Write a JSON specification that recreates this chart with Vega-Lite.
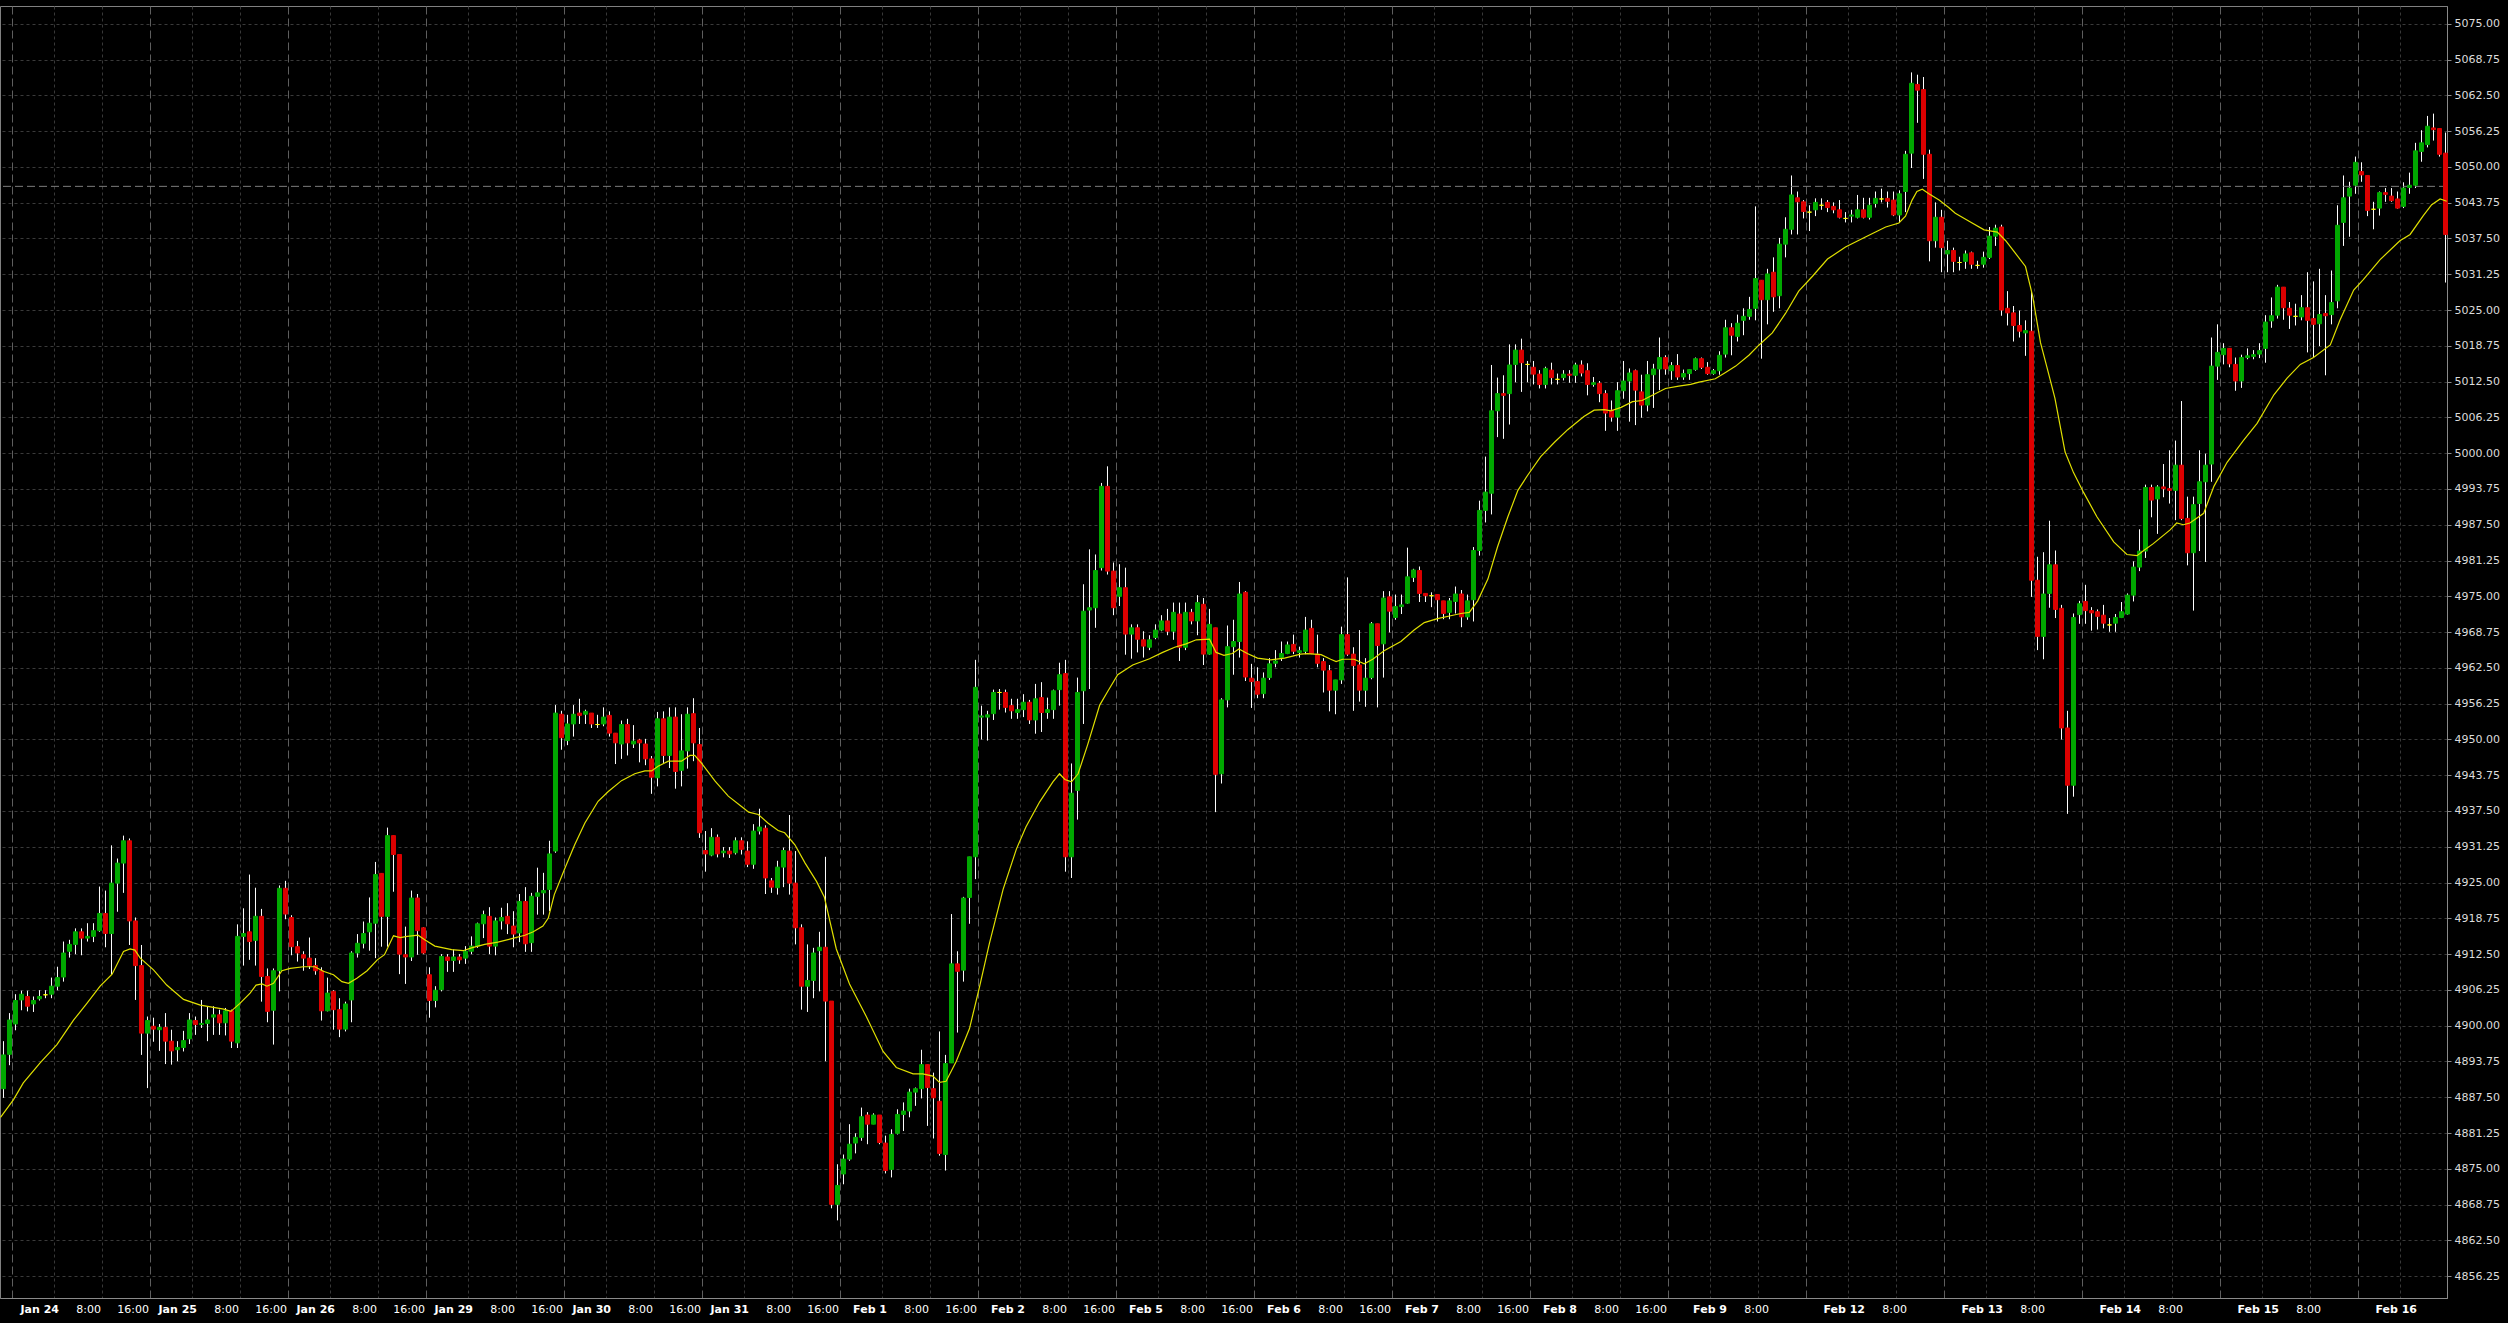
{
"$schema":"https://vega.github.io/schema/vega-lite/v6.json",
"width":2447,"height":1292,
"autosize":{"type":"none"},
"padding":{"left":0,"top":6,"right":61,"bottom":25},
"background":"#000000",
"config":{"view":{"stroke":"#808080","strokeWidth":1},"axis":{"labelFont":"DejaVu Sans","labelFontSize":11}},
"datasets":{
"c":[
{"k":0,"o":4889.0,"h":4897.3,"l":4887.4,"c":4894.9},
{"k":1,"o":4895.0,"h":4902.2,"l":4893.1,"c":4901.0},
{"k":2,"o":4900.3,"h":4905.5,"l":4899.2,"c":4904.4},
{"k":3,"o":4904.5,"h":4906.1,"l":4902.7,"c":4905.5},
{"k":4,"o":4905.1,"h":4906.1,"l":4902.5,"c":4903.4},
{"k":5,"o":4903.8,"h":4905.1,"l":4902.4,"c":4904.4},
{"k":6,"o":4904.7,"h":4906.2,"l":4904.4,"c":4905.1},
{"k":7,"o":4905.4,"h":4906.2,"l":4904.8,"c":4905.4},
{"k":8,"o":4905.5,"h":4908.4,"l":4904.8,"c":4906.9},
{"k":9,"o":4906.9,"h":4910.3,"l":4906.2,"c":4908.4},
{"k":10,"o":4908.5,"h":4914.7,"l":4907.7,"c":4912.7},
{"k":11,"o":4913.0,"h":4915.0,"l":4911.9,"c":4914.2},
{"k":12,"o":4914.2,"h":4917.0,"l":4912.5,"c":4916.4},
{"k":13,"o":4916.4,"h":4917.0,"l":4912.3,"c":4915.3},
{"k":14,"o":4915.3,"h":4917.9,"l":4914.7,"c":4915.6},
{"k":15,"o":4915.6,"h":4917.9,"l":4914.6,"c":4916.6},
{"k":16,"o":4916.6,"h":4924.3,"l":4916.4,"c":4919.6},
{"k":17,"o":4919.6,"h":4923.6,"l":4913.7,"c":4916.1},
{"k":18,"o":4916.1,"h":4931.5,"l":4908.9,"c":4924.9},
{"k":19,"o":4924.9,"h":4929.2,"l":4919.9,"c":4928.4},
{"k":20,"o":4928.4,"h":4933.2,"l":4923.2,"c":4932.3},
{"k":21,"o":4932.3,"h":4932.7,"l":4914.1,"c":4918.3},
{"k":22,"o":4918.3,"h":4918.9,"l":4904.5,"c":4910.5},
{"k":23,"o":4910.5,"h":4914.1,"l":4894.9,"c":4898.7},
{"k":24,"o":4898.7,"h":4901.6,"l":4889.1,"c":4900.9},
{"k":25,"o":4899.9,"h":4901.4,"l":4897.2,"c":4899.4},
{"k":26,"o":4899.3,"h":4900.3,"l":4895.6,"c":4899.7},
{"k":27,"o":4899.7,"h":4902.2,"l":4893.3,"c":4897.3},
{"k":28,"o":4897.3,"h":4899.3,"l":4893.2,"c":4895.6},
{"k":29,"o":4895.8,"h":4897.3,"l":4893.8,"c":4896.2},
{"k":30,"o":4896.2,"h":4899.1,"l":4895.5,"c":4897.4},
{"k":31,"o":4897.7,"h":4902.2,"l":4896.8,"c":4901.0},
{"k":32,"o":4900.9,"h":4901.6,"l":4898.4,"c":4900.2},
{"k":33,"o":4900.2,"h":4904.5,"l":4899.6,"c":4900.4},
{"k":34,"o":4900.4,"h":4903.4,"l":4897.3,"c":4901.0},
{"k":35,"o":4901.5,"h":4903.4,"l":4898.4,"c":4901.9},
{"k":36,"o":4901.9,"h":4902.8,"l":4898.4,"c":4900.5},
{"k":37,"o":4900.5,"h":4903.1,"l":4898.3,"c":4902.6},
{"k":38,"o":4902.6,"h":4902.8,"l":4896.1,"c":4897.3},
{"k":39,"o":4897.0,"h":4917.7,"l":4896.1,"c":4915.6},
{"k":40,"o":4915.6,"h":4920.5,"l":4910.5,"c":4916.1},
{"k":41,"o":4916.4,"h":4926.4,"l":4911.5,"c":4914.7},
{"k":42,"o":4914.9,"h":4924.1,"l":4910.5,"c":4919.1},
{"k":43,"o":4919.1,"h":4920.4,"l":4904.2,"c":4908.6},
{"k":44,"o":4908.6,"h":4910.0,"l":4900.6,"c":4902.5},
{"k":45,"o":4902.7,"h":4910.0,"l":4896.7,"c":4909.6},
{"k":46,"o":4909.6,"h":4924.5,"l":4906.0,"c":4924.0},
{"k":47,"o":4924.0,"h":4925.3,"l":4918.6,"c":4919.5},
{"k":48,"o":4918.9,"h":4919.3,"l":4912.3,"c":4913.8},
{"k":49,"o":4913.8,"h":4914.8,"l":4911.2,"c":4912.7},
{"k":50,"o":4912.4,"h":4913.0,"l":4909.6,"c":4911.8},
{"k":51,"o":4911.8,"h":4915.4,"l":4909.9,"c":4910.5},
{"k":52,"o":4910.5,"h":4911.8,"l":4908.9,"c":4909.6},
{"k":53,"o":4909.6,"h":4910.2,"l":4900.9,"c":4902.6},
{"k":54,"o":4902.6,"h":4908.4,"l":4902.5,"c":4905.7},
{"k":55,"o":4906.0,"h":4906.2,"l":4899.3,"c":4902.8},
{"k":56,"o":4902.8,"h":4904.8,"l":4898.0,"c":4899.4},
{"k":57,"o":4899.4,"h":4904.2,"l":4899.0,"c":4903.8},
{"k":58,"o":4904.5,"h":4913.0,"l":4900.6,"c":4912.7},
{"k":59,"o":4912.7,"h":4916.0,"l":4911.9,"c":4914.4},
{"k":60,"o":4914.4,"h":4918.2,"l":4913.5,"c":4916.1},
{"k":61,"o":4916.4,"h":4922.4,"l":4913.1,"c":4917.9},
{"k":62,"o":4917.9,"h":4928.6,"l":4911.8,"c":4926.4},
{"k":63,"o":4926.6,"h":4926.6,"l":4913.8,"c":4919.1},
{"k":64,"o":4919.1,"h":4934.6,"l":4913.8,"c":4933.2},
{"k":65,"o":4933.2,"h":4933.2,"l":4923.4,"c":4929.9},
{"k":66,"o":4929.9,"h":4929.9,"l":4909.0,"c":4912.5},
{"k":67,"o":4912.4,"h":4917.3,"l":4907.3,"c":4912.0},
{"k":68,"o":4912.0,"h":4923.6,"l":4911.3,"c":4922.3},
{"k":69,"o":4922.3,"h":4923.0,"l":4912.4,"c":4916.6},
{"k":70,"o":4917.1,"h":4917.2,"l":4912.5,"c":4912.7},
{"k":71,"o":4908.9,"h":4910.2,"l":4901.4,"c":4904.4},
{"k":72,"o":4904.4,"h":4906.9,"l":4903.2,"c":4906.2},
{"k":73,"o":4906.3,"h":4912.5,"l":4906.0,"c":4912.1},
{"k":74,"o":4912.0,"h":4912.5,"l":4909.4,"c":4911.4},
{"k":75,"o":4911.4,"h":4913.3,"l":4909.4,"c":4912.0},
{"k":76,"o":4912.0,"h":4912.5,"l":4910.8,"c":4911.5},
{"k":77,"o":4911.8,"h":4913.9,"l":4910.8,"c":4913.0},
{"k":78,"o":4913.0,"h":4915.6,"l":4912.5,"c":4913.9},
{"k":79,"o":4913.9,"h":4918.0,"l":4913.6,"c":4917.8},
{"k":80,"o":4917.8,"h":4920.1,"l":4915.3,"c":4919.4},
{"k":81,"o":4919.1,"h":4920.7,"l":4912.5,"c":4913.9},
{"k":82,"o":4913.9,"h":4918.9,"l":4912.3,"c":4918.3},
{"k":83,"o":4918.3,"h":4920.6,"l":4916.8,"c":4918.9},
{"k":84,"o":4919.1,"h":4921.4,"l":4916.0,"c":4917.8},
{"k":85,"o":4917.4,"h":4920.0,"l":4913.7,"c":4916.0},
{"k":86,"o":4916.2,"h":4923.0,"l":4914.6,"c":4921.7},
{"k":87,"o":4921.7,"h":4924.2,"l":4912.9,"c":4914.3},
{"k":88,"o":4914.5,"h":4923.2,"l":4912.9,"c":4922.6},
{"k":89,"o":4922.6,"h":4927.6,"l":4919.4,"c":4923.2},
{"k":90,"o":4923.2,"h":4926.7,"l":4919.4,"c":4923.6},
{"k":91,"o":4923.8,"h":4932.3,"l":4920.0,"c":4930.0},
{"k":92,"o":4930.5,"h":4956.0,"l":4930.2,"c":4954.6},
{"k":93,"o":4954.4,"h":4955.0,"l":4948.2,"c":4950.3},
{"k":94,"o":4949.8,"h":4954.3,"l":4949.0,"c":4952.7},
{"k":95,"o":4952.7,"h":4956.0,"l":4950.5,"c":4954.4},
{"k":96,"o":4954.6,"h":4957.1,"l":4952.7,"c":4954.2},
{"k":97,"o":4954.4,"h":4955.2,"l":4952.7,"c":4954.9},
{"k":98,"o":4954.6,"h":4954.6,"l":4952.0,"c":4952.7},
{"k":99,"o":4952.6,"h":4954.3,"l":4952.0,"c":4952.6},
{"k":100,"o":4952.7,"h":4955.6,"l":4952.3,"c":4953.9},
{"k":101,"o":4954.2,"h":4954.9,"l":4950.5,"c":4951.1},
{"k":102,"o":4951.1,"h":4951.1,"l":4945.7,"c":4949.4},
{"k":103,"o":4949.2,"h":4953.3,"l":4946.6,"c":4952.6},
{"k":104,"o":4952.6,"h":4953.6,"l":4947.2,"c":4949.4},
{"k":105,"o":4949.2,"h":4952.5,"l":4948.5,"c":4949.7},
{"k":106,"o":4949.9,"h":4950.1,"l":4946.0,"c":4949.4},
{"k":107,"o":4949.2,"h":4950.1,"l":4945.5,"c":4946.6},
{"k":108,"o":4946.6,"h":4947.1,"l":4940.5,"c":4943.4},
{"k":109,"o":4943.3,"h":4954.8,"l":4941.8,"c":4953.6},
{"k":110,"o":4953.6,"h":4954.9,"l":4945.9,"c":4947.2},
{"k":111,"o":4947.2,"h":4955.6,"l":4945.0,"c":4953.9},
{"k":112,"o":4953.9,"h":4955.6,"l":4941.4,"c":4944.4},
{"k":113,"o":4944.6,"h":4954.4,"l":4941.8,"c":4948.0},
{"k":114,"o":4948.0,"h":4955.6,"l":4944.9,"c":4954.4},
{"k":115,"o":4954.5,"h":4957.2,"l":4946.2,"c":4949.4},
{"k":116,"o":4949.1,"h":4952.0,"l":4932.8,"c":4933.7},
{"k":117,"o":4930.6,"h":4934.0,"l":4926.9,"c":4930.0},
{"k":118,"o":4929.8,"h":4934.5,"l":4929.6,"c":4932.9},
{"k":119,"o":4932.9,"h":4933.4,"l":4929.4,"c":4930.0},
{"k":120,"o":4930.2,"h":4931.2,"l":4929.4,"c":4930.5},
{"k":121,"o":4930.5,"h":4931.2,"l":4929.3,"c":4930.0},
{"k":122,"o":4930.2,"h":4932.9,"l":4929.9,"c":4932.3},
{"k":123,"o":4932.3,"h":4932.9,"l":4929.9,"c":4930.8},
{"k":124,"o":4930.5,"h":4932.2,"l":4927.7,"c":4928.2},
{"k":125,"o":4928.2,"h":4935.2,"l":4927.4,"c":4934.0},
{"k":126,"o":4934.0,"h":4937.9,"l":4933.4,"c":4934.7},
{"k":127,"o":4934.5,"h":4935.0,"l":4923.0,"c":4925.8},
{"k":128,"o":4925.3,"h":4925.8,"l":4923.2,"c":4924.2},
{"k":129,"o":4924.1,"h":4928.8,"l":4922.9,"c":4927.7},
{"k":130,"o":4927.7,"h":4931.1,"l":4924.2,"c":4930.6},
{"k":131,"o":4930.5,"h":4936.8,"l":4922.9,"c":4924.9},
{"k":132,"o":4924.9,"h":4930.5,"l":4914.2,"c":4917.1},
{"k":133,"o":4917.1,"h":4917.7,"l":4902.8,"c":4906.9},
{"k":134,"o":4906.9,"h":4914.2,"l":4902.4,"c":4907.9},
{"k":135,"o":4907.9,"h":4913.6,"l":4904.8,"c":4912.7},
{"k":136,"o":4913.1,"h":4916.4,"l":4906.0,"c":4913.7},
{"k":137,"o":4913.7,"h":4929.5,"l":4893.8,"c":4904.3},
{"k":138,"o":4904.3,"h":4904.3,"l":4868.1,"c":4868.8},
{"k":139,"o":4868.8,"h":4875.8,"l":4866.0,"c":4872.1},
{"k":140,"o":4874.1,"h":4877.5,"l":4872.3,"c":4876.7},
{"k":141,"o":4876.7,"h":4882.8,"l":4876.4,"c":4879.3},
{"k":142,"o":4879.5,"h":4881.2,"l":4877.7,"c":4880.5},
{"k":143,"o":4880.5,"h":4885.7,"l":4879.9,"c":4884.1},
{"k":144,"o":4884.4,"h":4884.9,"l":4879.3,"c":4882.8},
{"k":145,"o":4882.8,"h":4884.7,"l":4882.8,"c":4884.4},
{"k":146,"o":4884.4,"h":4884.4,"l":4879.3,"c":4879.6},
{"k":147,"o":4879.5,"h":4880.8,"l":4874.2,"c":4874.7},
{"k":148,"o":4874.9,"h":4881.9,"l":4873.5,"c":4881.0},
{"k":149,"o":4881.2,"h":4885.4,"l":4881.0,"c":4884.5},
{"k":150,"o":4884.5,"h":4886.6,"l":4881.6,"c":4885.1},
{"k":151,"o":4885.1,"h":4889.0,"l":4884.0,"c":4888.4},
{"k":152,"o":4888.4,"h":4889.2,"l":4886.0,"c":4889.0},
{"k":153,"o":4889.0,"h":4895.8,"l":4887.3,"c":4893.2},
{"k":154,"o":4893.2,"h":4893.2,"l":4882.5,"c":4889.2},
{"k":155,"o":4889.0,"h":4891.8,"l":4880.3,"c":4887.4},
{"k":156,"o":4886.8,"h":4899.0,"l":4877.3,"c":4877.7},
{"k":157,"o":4877.5,"h":4894.9,"l":4874.7,"c":4893.4},
{"k":158,"o":4893.5,"h":4919.5,"l":4893.5,"c":4910.8},
{"k":159,"o":4910.8,"h":4913.0,"l":4898.8,"c":4909.5},
{"k":160,"o":4909.7,"h":4922.5,"l":4907.7,"c":4922.3},
{"k":161,"o":4922.4,"h":4929.5,"l":4917.8,"c":4929.5},
{"k":162,"o":4929.5,"h":4963.9,"l":4925.6,"c":4959.1},
{"k":163,"o":4953.9,"h":4955.9,"l":4950.0,"c":4954.1},
{"k":164,"o":4953.9,"h":4955.0,"l":4949.8,"c":4954.3},
{"k":165,"o":4954.5,"h":4958.7,"l":4953.4,"c":4958.2},
{"k":166,"o":4958.2,"h":4958.8,"l":4955.2,"c":4958.2},
{"k":167,"o":4958.2,"h":4958.7,"l":4954.7,"c":4955.6},
{"k":168,"o":4955.9,"h":4957.1,"l":4953.6,"c":4955.0},
{"k":169,"o":4954.7,"h":4957.1,"l":4953.6,"c":4955.2},
{"k":170,"o":4955.2,"h":4957.9,"l":4953.9,"c":4956.5},
{"k":171,"o":4956.5,"h":4956.9,"l":4952.7,"c":4953.4},
{"k":172,"o":4953.4,"h":4959.7,"l":4951.0,"c":4957.1},
{"k":173,"o":4957.3,"h":4960.0,"l":4951.3,"c":4954.7},
{"k":174,"o":4954.7,"h":4957.3,"l":4953.6,"c":4955.2},
{"k":175,"o":4955.2,"h":4958.7,"l":4953.6,"c":4958.5},
{"k":176,"o":4958.7,"h":4963.4,"l":4955.9,"c":4961.3},
{"k":177,"o":4961.5,"h":4963.9,"l":4926.9,"c":4929.5},
{"k":178,"o":4929.5,"h":4945.8,"l":4925.8,"c":4940.6},
{"k":179,"o":4941.1,"h":4960.8,"l":4936.0,"c":4958.2},
{"k":180,"o":4958.5,"h":4977.1,"l":4952.7,"c":4972.4},
{"k":181,"o":4972.6,"h":4983.2,"l":4958.8,"c":4973.0},
{"k":182,"o":4973.0,"h":4982.3,"l":4969.5,"c":4979.5},
{"k":183,"o":4980.0,"h":4994.8,"l":4979.5,"c":4994.2},
{"k":184,"o":4994.2,"h":4997.7,"l":4978.8,"c":4979.4},
{"k":185,"o":4979.4,"h":4980.9,"l":4971.7,"c":4973.0},
{"k":186,"o":4975.0,"h":4980.6,"l":4973.3,"c":4976.5},
{"k":187,"o":4976.5,"h":4980.0,"l":4964.8,"c":4968.4},
{"k":188,"o":4968.4,"h":4970.1,"l":4964.1,"c":4969.5},
{"k":189,"o":4969.5,"h":4970.1,"l":4965.2,"c":4967.5},
{"k":190,"o":4967.4,"h":4968.9,"l":4964.3,"c":4966.3},
{"k":191,"o":4966.1,"h":4968.2,"l":4965.6,"c":4967.4},
{"k":192,"o":4967.8,"h":4970.1,"l":4967.5,"c":4969.1},
{"k":193,"o":4969.1,"h":4971.7,"l":4968.9,"c":4970.7},
{"k":194,"o":4970.7,"h":4972.8,"l":4968.2,"c":4968.9},
{"k":195,"o":4968.9,"h":4973.9,"l":4967.4,"c":4972.2},
{"k":196,"o":4971.9,"h":4973.9,"l":4963.7,"c":4966.1},
{"k":197,"o":4966.1,"h":4973.9,"l":4965.6,"c":4972.2},
{"k":198,"o":4972.2,"h":4972.8,"l":4970.1,"c":4970.7},
{"k":199,"o":4970.7,"h":4975.2,"l":4968.2,"c":4973.9},
{"k":200,"o":4973.6,"h":4974.7,"l":4963.0,"c":4964.9},
{"k":201,"o":4964.9,"h":4972.8,"l":4964.8,"c":4970.1},
{"k":202,"o":4969.5,"h":4969.5,"l":4937.3,"c":4943.9},
{"k":203,"o":4944.0,"h":4957.2,"l":4942.3,"c":4956.9},
{"k":204,"o":4956.9,"h":4969.9,"l":4955.6,"c":4966.2},
{"k":205,"o":4966.2,"h":4970.9,"l":4961.3,"c":4967.1},
{"k":206,"o":4967.1,"h":4977.5,"l":4964.3,"c":4975.4},
{"k":207,"o":4975.7,"h":4975.9,"l":4960.2,"c":4960.9},
{"k":208,"o":4960.7,"h":4963.2,"l":4955.5,"c":4960.1},
{"k":209,"o":4960.1,"h":4962.6,"l":4957.2,"c":4957.9},
{"k":210,"o":4958.0,"h":4961.7,"l":4957.2,"c":4960.7},
{"k":211,"o":4960.8,"h":4964.2,"l":4960.4,"c":4963.2},
{"k":212,"o":4963.3,"h":4965.6,"l":4962.6,"c":4963.7},
{"k":213,"o":4964.3,"h":4967.1,"l":4963.7,"c":4965.0},
{"k":214,"o":4965.0,"h":4967.1,"l":4964.9,"c":4966.5},
{"k":215,"o":4966.6,"h":4968.3,"l":4964.9,"c":4965.4},
{"k":216,"o":4965.2,"h":4966.2,"l":4964.3,"c":4965.5},
{"k":217,"o":4965.4,"h":4971.4,"l":4964.9,"c":4969.1},
{"k":218,"o":4969.4,"h":4970.9,"l":4964.9,"c":4965.0},
{"k":219,"o":4964.9,"h":4968.3,"l":4962.6,"c":4963.3},
{"k":220,"o":4963.6,"h":4964.2,"l":4958.2,"c":4962.1},
{"k":221,"o":4962.0,"h":4963.0,"l":4954.9,"c":4958.6},
{"k":222,"o":4958.6,"h":4960.4,"l":4954.4,"c":4960.4},
{"k":223,"o":4960.4,"h":4969.7,"l":4959.7,"c":4968.3},
{"k":224,"o":4968.3,"h":4978.3,"l":4964.6,"c":4964.9},
{"k":225,"o":4964.9,"h":4966.1,"l":4955.0,"c":4962.9},
{"k":226,"o":4963.0,"h":4969.1,"l":4956.6,"c":4958.6},
{"k":227,"o":4958.6,"h":4964.2,"l":4955.7,"c":4960.7},
{"k":228,"o":4960.8,"h":4970.5,"l":4960.5,"c":4970.2},
{"k":229,"o":4970.2,"h":4970.2,"l":4955.6,"c":4966.4},
{"k":230,"o":4966.7,"h":4975.9,"l":4960.8,"c":4974.7},
{"k":231,"o":4974.9,"h":4975.9,"l":4968.7,"c":4972.4},
{"k":232,"o":4971.3,"h":4975.3,"l":4970.9,"c":4973.2},
{"k":233,"o":4973.2,"h":4975.3,"l":4971.9,"c":4973.5},
{"k":234,"o":4973.8,"h":4983.5,"l":4973.7,"c":4978.4},
{"k":235,"o":4978.3,"h":4979.8,"l":4977.5,"c":4979.6},
{"k":236,"o":4979.5,"h":4980.2,"l":4974.0,"c":4975.5},
{"k":237,"o":4975.5,"h":4975.5,"l":4974.0,"c":4975.1},
{"k":238,"o":4975.1,"h":4975.7,"l":4973.1,"c":4975.1},
{"k":239,"o":4975.3,"h":4975.3,"l":4970.6,"c":4974.4},
{"k":240,"o":4974.2,"h":4974.2,"l":4971.0,"c":4972.0},
{"k":241,"o":4972.2,"h":4974.7,"l":4971.0,"c":4974.2},
{"k":242,"o":4974.1,"h":4976.7,"l":4972.0,"c":4975.4},
{"k":243,"o":4975.4,"h":4976.1,"l":4969.6,"c":4971.4},
{"k":244,"o":4971.4,"h":4975.3,"l":4970.9,"c":4974.2},
{"k":245,"o":4974.4,"h":4983.6,"l":4970.6,"c":4983.0},
{"k":246,"o":4983.0,"h":4991.7,"l":4982.1,"c":4990.0},
{"k":247,"o":4990.0,"h":4999.4,"l":4987.9,"c":4993.2},
{"k":248,"o":4993.0,"h":5015.4,"l":4989.3,"c":5007.4},
{"k":249,"o":5007.4,"h":5013.2,"l":5002.8,"c":5010.4},
{"k":250,"o":5010.4,"h":5013.6,"l":5002.5,"c":5010.1},
{"k":251,"o":5010.4,"h":5019.0,"l":5005.0,"c":5015.4},
{"k":252,"o":5015.5,"h":5019.0,"l":5012.4,"c":5018.0},
{"k":253,"o":5018.0,"h":5020.0,"l":5010.7,"c":5015.8},
{"k":254,"o":5015.5,"h":5016.1,"l":5012.4,"c":5015.5},
{"k":255,"o":5015.0,"h":5016.1,"l":5012.0,"c":5013.8},
{"k":256,"o":5013.8,"h":5014.5,"l":5011.3,"c":5012.0},
{"k":257,"o":5012.0,"h":5015.1,"l":5011.3,"c":5014.8},
{"k":258,"o":5014.5,"h":5015.8,"l":5012.0,"c":5013.2},
{"k":259,"o":5012.9,"h":5013.9,"l":5012.0,"c":5012.9},
{"k":260,"o":5013.2,"h":5014.5,"l":5012.7,"c":5013.8},
{"k":261,"o":5013.8,"h":5014.5,"l":5012.3,"c":5013.6},
{"k":262,"o":5013.6,"h":5015.8,"l":5012.3,"c":5015.4},
{"k":263,"o":5015.4,"h":5016.2,"l":5013.4,"c":5014.0},
{"k":264,"o":5014.4,"h":5015.7,"l":5010.1,"c":5012.0},
{"k":265,"o":5012.0,"h":5013.3,"l":5011.6,"c":5012.3},
{"k":266,"o":5012.2,"h":5012.6,"l":5008.9,"c":5010.4},
{"k":267,"o":5010.4,"h":5011.0,"l":5003.9,"c":5007.0},
{"k":268,"o":5007.5,"h":5009.2,"l":5005.5,"c":5006.3},
{"k":269,"o":5006.3,"h":5012.4,"l":5003.9,"c":5010.9},
{"k":270,"o":5010.9,"h":5016.1,"l":5009.5,"c":5012.6},
{"k":271,"o":5012.6,"h":5014.8,"l":5005.5,"c":5014.0},
{"k":272,"o":5014.4,"h":5014.6,"l":5004.9,"c":5011.0},
{"k":273,"o":5010.7,"h":5013.7,"l":5006.2,"c":5008.4},
{"k":274,"o":5008.4,"h":5016.1,"l":5007.3,"c":5013.7},
{"k":275,"o":5013.7,"h":5015.6,"l":5007.9,"c":5014.7},
{"k":276,"o":5014.7,"h":5020.2,"l":5011.0,"c":5016.7},
{"k":277,"o":5016.7,"h":5017.1,"l":5013.7,"c":5014.7},
{"k":278,"o":5014.4,"h":5015.9,"l":5012.8,"c":5015.3},
{"k":279,"o":5015.3,"h":5017.3,"l":5012.8,"c":5013.3},
{"k":280,"o":5013.3,"h":5014.6,"l":5012.8,"c":5013.9},
{"k":281,"o":5013.9,"h":5014.7,"l":5012.8,"c":5014.6},
{"k":282,"o":5014.6,"h":5016.7,"l":5014.4,"c":5016.5},
{"k":283,"o":5016.5,"h":5016.7,"l":5014.7,"c":5015.0},
{"k":284,"o":5015.0,"h":5015.9,"l":5013.7,"c":5013.9},
{"k":285,"o":5013.9,"h":5014.7,"l":5013.7,"c":5014.4},
{"k":286,"o":5014.4,"h":5017.8,"l":5013.7,"c":5017.1},
{"k":287,"o":5017.3,"h":5023.3,"l":5016.7,"c":5021.9},
{"k":288,"o":5021.9,"h":5022.7,"l":5017.1,"c":5020.6},
{"k":289,"o":5020.4,"h":5024.2,"l":5019.5,"c":5022.7},
{"k":290,"o":5023.2,"h":5025.3,"l":5020.6,"c":5023.9},
{"k":291,"o":5023.9,"h":5027.3,"l":5023.3,"c":5025.1},
{"k":292,"o":5025.3,"h":5043.1,"l":5023.2,"c":5030.5},
{"k":293,"o":5030.2,"h":5030.2,"l":5016.5,"c":5026.8},
{"k":294,"o":5026.8,"h":5032.2,"l":5022.5,"c":5031.3},
{"k":295,"o":5031.6,"h":5034.2,"l":5024.7,"c":5027.3},
{"k":296,"o":5027.5,"h":5037.6,"l":5025.3,"c":5036.5},
{"k":297,"o":5036.5,"h":5041.2,"l":5034.2,"c":5039.1},
{"k":298,"o":5039.1,"h":5048.5,"l":5038.2,"c":5045.1},
{"k":299,"o":5044.6,"h":5045.7,"l":5038.2,"c":5043.9},
{"k":300,"o":5043.9,"h":5044.2,"l":5041.0,"c":5042.2},
{"k":301,"o":5042.1,"h":5043.3,"l":5038.8,"c":5042.1},
{"k":302,"o":5042.5,"h":5044.5,"l":5041.4,"c":5043.8},
{"k":303,"o":5043.3,"h":5044.5,"l":5042.5,"c":5043.3},
{"k":304,"o":5043.8,"h":5044.2,"l":5042.1,"c":5042.9},
{"k":305,"o":5043.1,"h":5043.8,"l":5041.9,"c":5042.5},
{"k":306,"o":5042.5,"h":5044.2,"l":5041.0,"c":5041.2},
{"k":307,"o":5041.0,"h":5042.1,"l":5040.3,"c":5041.0},
{"k":308,"o":5041.4,"h":5042.5,"l":5040.3,"c":5041.6},
{"k":309,"o":5041.2,"h":5045.1,"l":5041.0,"c":5042.5},
{"k":310,"o":5042.5,"h":5044.6,"l":5041.0,"c":5041.2},
{"k":311,"o":5041.2,"h":5044.6,"l":5040.8,"c":5043.3},
{"k":312,"o":5043.6,"h":5045.7,"l":5042.9,"c":5044.5},
{"k":313,"o":5044.4,"h":5046.2,"l":5043.8,"c":5044.4},
{"k":314,"o":5044.5,"h":5045.7,"l":5042.9,"c":5044.0},
{"k":315,"o":5044.2,"h":5045.7,"l":5041.4,"c":5041.6},
{"k":316,"o":5041.6,"h":5045.9,"l":5040.3,"c":5045.3},
{"k":317,"o":5045.7,"h":5052.8,"l":5042.1,"c":5052.2},
{"k":318,"o":5052.4,"h":5066.5,"l":5049.8,"c":5064.6},
{"k":319,"o":5064.4,"h":5066.1,"l":5057.7,"c":5063.4},
{"k":320,"o":5063.5,"h":5065.7,"l":5047.9,"c":5052.2},
{"k":321,"o":5052.2,"h":5053.0,"l":5033.5,"c":5037.1},
{"k":322,"o":5037.1,"h":5043.8,"l":5035.9,"c":5041.2},
{"k":323,"o":5041.2,"h":5042.5,"l":5031.6,"c":5035.9},
{"k":324,"o":5034.8,"h":5037.1,"l":5031.6,"c":5035.4},
{"k":325,"o":5035.4,"h":5035.9,"l":5031.6,"c":5033.5},
{"k":326,"o":5033.3,"h":5034.3,"l":5031.9,"c":5033.3},
{"k":327,"o":5033.5,"h":5035.4,"l":5032.2,"c":5034.8},
{"k":328,"o":5035.0,"h":5035.2,"l":5032.2,"c":5033.0},
{"k":329,"o":5032.8,"h":5033.6,"l":5032.2,"c":5032.8},
{"k":330,"o":5033.0,"h":5035.2,"l":5032.4,"c":5034.2},
{"k":331,"o":5034.2,"h":5039.5,"l":5033.9,"c":5037.9},
{"k":332,"o":5037.9,"h":5039.9,"l":5036.2,"c":5039.3},
{"k":333,"o":5039.5,"h":5039.9,"l":5024.0,"c":5025.0},
{"k":334,"o":5025.3,"h":5028.3,"l":5022.3,"c":5024.5},
{"k":335,"o":5024.5,"h":5025.7,"l":5019.5,"c":5022.3},
{"k":336,"o":5022.3,"h":5024.9,"l":5020.2,"c":5021.3},
{"k":337,"o":5021.0,"h":5023.2,"l":5017.0,"c":5021.4},
{"k":338,"o":5021.3,"h":5028.3,"l":4974.9,"c":4977.8},
{"k":339,"o":4977.8,"h":4981.9,"l":4965.6,"c":4968.0},
{"k":340,"o":4968.0,"h":4982.7,"l":4964.0,"c":4975.4},
{"k":341,"o":4975.5,"h":4988.2,"l":4973.0,"c":4980.5},
{"k":342,"o":4980.5,"h":4983.0,"l":4971.2,"c":4972.7},
{"k":343,"o":4972.9,"h":4973.5,"l":4950.0,"c":4952.0},
{"k":344,"o":4952.0,"h":4955.0,"l":4937.0,"c":4942.0},
{"k":345,"o":4942.0,"h":4972.0,"l":4940.0,"c":4971.3},
{"k":346,"o":4971.8,"h":4974.2,"l":4970.2,"c":4973.7},
{"k":347,"o":4974.1,"h":4977.0,"l":4970.2,"c":4972.5},
{"k":348,"o":4972.5,"h":4973.1,"l":4969.0,"c":4972.1},
{"k":349,"o":4972.3,"h":4972.7,"l":4969.2,"c":4971.5},
{"k":350,"o":4971.7,"h":4973.5,"l":4969.4,"c":4970.3},
{"k":351,"o":4970.0,"h":4971.2,"l":4968.8,"c":4970.0},
{"k":352,"o":4970.3,"h":4971.9,"l":4968.8,"c":4971.3},
{"k":353,"o":4971.3,"h":4974.0,"l":4971.2,"c":4972.3},
{"k":354,"o":4971.9,"h":4975.5,"l":4971.8,"c":4975.2},
{"k":355,"o":4975.2,"h":4981.1,"l":4974.1,"c":4980.1},
{"k":356,"o":4980.1,"h":4986.7,"l":4979.4,"c":4982.9},
{"k":357,"o":4982.9,"h":4994.5,"l":4981.7,"c":4994.0},
{"k":358,"o":4994.0,"h":4994.5,"l":4988.8,"c":4991.8},
{"k":359,"o":4992.0,"h":4994.4,"l":4985.9,"c":4994.1},
{"k":360,"o":4994.1,"h":4998.1,"l":4992.3,"c":4993.8},
{"k":361,"o":4993.8,"h":5000.5,"l":4991.2,"c":4993.5},
{"k":362,"o":4993.5,"h":5002.2,"l":4988.3,"c":4997.9},
{"k":363,"o":4997.9,"h":5009.1,"l":4988.3,"c":4988.6},
{"k":364,"o":4988.6,"h":4992.4,"l":4980.4,"c":4982.6},
{"k":365,"o":4982.6,"h":4992.4,"l":4972.5,"c":4991.0},
{"k":366,"o":4991.2,"h":5000.5,"l":4982.9,"c":4995.0},
{"k":367,"o":4995.0,"h":4999.9,"l":4981.0,"c":4997.9},
{"k":368,"o":4998.1,"h":5020.2,"l":4995.0,"c":5015.2},
{"k":369,"o":5015.2,"h":5022.5,"l":5012.8,"c":5017.6},
{"k":370,"o":5017.2,"h":5019.2,"l":5015.5,"c":5018.3},
{"k":371,"o":5018.3,"h":5018.3,"l":5015.0,"c":5015.6},
{"k":372,"o":5015.5,"h":5016.7,"l":5010.9,"c":5012.6},
{"k":373,"o":5012.6,"h":5017.2,"l":5011.4,"c":5016.7},
{"k":374,"o":5016.7,"h":5018.3,"l":5016.4,"c":5017.0},
{"k":375,"o":5016.9,"h":5018.0,"l":5016.4,"c":5017.2},
{"k":376,"o":5017.3,"h":5019.2,"l":5016.6,"c":5017.9},
{"k":377,"o":5018.3,"h":5024.1,"l":5015.8,"c":5022.9},
{"k":378,"o":5023.1,"h":5027.2,"l":5021.9,"c":5024.0},
{"k":379,"o":5024.1,"h":5029.4,"l":5023.5,"c":5029.0},
{"k":380,"o":5029.0,"h":5029.0,"l":5023.3,"c":5025.4},
{"k":381,"o":5025.3,"h":5026.4,"l":5021.7,"c":5024.1},
{"k":382,"o":5023.9,"h":5026.1,"l":5022.3,"c":5023.9},
{"k":383,"o":5023.8,"h":5027.6,"l":5023.2,"c":5025.4},
{"k":384,"o":5025.4,"h":5031.6,"l":5017.6,"c":5023.2},
{"k":385,"o":5023.5,"h":5030.0,"l":5016.8,"c":5022.5},
{"k":386,"o":5022.6,"h":5032.2,"l":5018.7,"c":5024.2},
{"k":387,"o":5024.4,"h":5027.6,"l":5013.6,"c":5024.0},
{"k":388,"o":5024.2,"h":5031.9,"l":5022.5,"c":5026.3},
{"k":389,"o":5026.6,"h":5043.3,"l":5025.3,"c":5039.8},
{"k":390,"o":5040.3,"h":5048.5,"l":5036.2,"c":5044.6},
{"k":391,"o":5044.9,"h":5047.4,"l":5037.8,"c":5046.3},
{"k":392,"o":5046.8,"h":5051.8,"l":5045.3,"c":5050.8},
{"k":393,"o":5049.2,"h":5050.8,"l":5047.4,"c":5048.6},
{"k":394,"o":5048.5,"h":5048.5,"l":5041.4,"c":5042.4},
{"k":395,"o":5042.6,"h":5043.9,"l":5039.1,"c":5042.6},
{"k":396,"o":5042.8,"h":5045.7,"l":5041.5,"c":5045.5},
{"k":397,"o":5045.5,"h":5046.3,"l":5043.9,"c":5045.2},
{"k":398,"o":5044.9,"h":5046.3,"l":5043.9,"c":5044.1},
{"k":399,"o":5044.4,"h":5045.7,"l":5042.7,"c":5042.8},
{"k":400,"o":5043.1,"h":5047.3,"l":5042.8,"c":5046.3},
{"k":401,"o":5046.4,"h":5049.0,"l":5045.3,"c":5046.8},
{"k":402,"o":5046.8,"h":5054.2,"l":5046.3,"c":5052.8},
{"k":403,"o":5052.7,"h":5056.4,"l":5050.9,"c":5054.2},
{"k":404,"o":5053.9,"h":5058.9,"l":5053.4,"c":5057.1},
{"k":405,"o":5056.8,"h":5059.3,"l":5054.6,"c":5056.5},
{"k":406,"o":5056.7,"h":5056.7,"l":5051.8,"c":5052.2},
{"k":407,"o":5052.4,"h":5056.0,"l":5029.8,"c":5038.2}
],
"ma":[
{"k":-0.5,"v":4884.0},{"k":1.67,"v":4887.1},{"k":3.3,"v":4890.0},{"k":6.1,"v":4893.5},{"k":8.9,"v":4896.7},{"k":11.7,"v":4901.0},{"k":13.9,"v":4903.9},{"k":16.1,"v":4906.9},{"k":18.1,"v":4909.0},{"k":20,"v":4912.95},{"k":21.1,"v":4913.4},{"k":21.9,"v":4913.2},{"k":22.8,"v":4911.8},{"k":25,"v":4909.75},{"k":27.2,"v":4907.1},{"k":30,"v":4904.6},{"k":32.8,"v":4903.6},{"k":35,"v":4903.2},{"k":36.7,"v":4902.9},{"k":37.9,"v":4902.5},{"k":39.4,"v":4903.9},{"k":41.1,"v":4905.7},{"k":42.1,"v":4907.1},{"k":43.1,"v":4907.3},{"k":43.9,"v":4906.9},{"k":45,"v":4907.4},{"k":46.4,"v":4909.6},{"k":47.8,"v":4910.0},{"k":50,"v":4910.3},{"k":51.9,"v":4910.3},{"k":53.3,"v":4909.5},{"k":55,"v":4908.9},{"k":56.4,"v":4907.7},{"k":57.5,"v":4907.4},{"k":58.9,"v":4908.3},{"k":60.6,"v":4909.6},{"k":62.3,"v":4911.5},{"k":63.5,"v":4912.4},{"k":64.3,"v":4914.2},{"k":65.0,"v":4915.7},{"k":66.1,"v":4915.4},{"k":67.3,"v":4915.6},{"k":69.1,"v":4915.8},{"k":70.2,"v":4915.0},{"k":71.9,"v":4913.9},{"k":74.7,"v":4913.3},{"k":76.6,"v":4913.1},{"k":78,"v":4913.6},{"k":80.2,"v":4914.2},{"k":82.4,"v":4914.6},{"k":84.7,"v":4915.2},{"k":86.9,"v":4915.8},{"k":88.3,"v":4916.4},{"k":89.9,"v":4917.4},{"k":90.8,"v":4918.8},{"k":91.8,"v":4922.9},{"k":93.6,"v":4927.6},{"k":95.2,"v":4931.6},{"k":96.9,"v":4935.4},{"k":99.1,"v":4939.2},{"k":100.8,"v":4940.9},{"k":103,"v":4942.8},{"k":105.2,"v":4944.0},{"k":106.9,"v":4944.5},{"k":108,"v":4944.5},{"k":109.1,"v":4945.3},{"k":110.8,"v":4946.2},{"k":113,"v":4946.2},{"k":114.4,"v":4947.2},{"k":115.2,"v":4947.2},{"k":116.3,"v":4945.9},{"k":118.6,"v":4942.7},{"k":120.8,"v":4940.1},{"k":123,"v":4938.3},{"k":124.2,"v":4937.3},{"k":125.8,"v":4936.9},{"k":127.4,"v":4935.4},{"k":129.1,"v":4934.1},{"k":130.2,"v":4933.7},{"k":131.9,"v":4931.6},{"k":133.6,"v":4928.4},{"k":135.5,"v":4925.2},{"k":136.8,"v":4922.5},{"k":138.8,"v":4913.4},{"k":141,"v":4907.3},{"k":143.8,"v":4901.6},{"k":146.6,"v":4895.5},{"k":148.8,"v":4892.7},{"k":151.6,"v":4891.6},{"k":153.2,"v":4891.6},{"k":154.9,"v":4891.2},{"k":156,"v":4890.1},{"k":157.1,"v":4890.3},{"k":158.8,"v":4893.8},{"k":161,"v":4899.5},{"k":162.7,"v":4906.9},{"k":164.3,"v":4914.3},{"k":166.6,"v":4923.8},{"k":168.8,"v":4930.8},{"k":170.4,"v":4934.7},{"k":172.7,"v":4939.1},{"k":174.9,"v":4942.6},{"k":176,"v":4944.0},{"k":176.9,"v":4943.0},{"k":178,"v":4942.6},{"k":179.1,"v":4944.0},{"k":180.7,"v":4949.1},{"k":182.7,"v":4956.0},{"k":184.1,"v":4958.5},{"k":185.7,"v":4961.3},{"k":188.2,"v":4963.0},{"k":191,"v":4964.1},{"k":193.2,"v":4965.2},{"k":195.2,"v":4966.1},{"k":197.1,"v":4966.7},{"k":198.8,"v":4967.4},{"k":201,"v":4967.5},{"k":202.1,"v":4965.2},{"k":203.4,"v":4964.7},{"k":204.8,"v":4965.0},{"k":205.9,"v":4965.8},{"k":207.3,"v":4965.0},{"k":209,"v":4964.2},{"k":211.2,"v":4963.9},{"k":213.5,"v":4964.2},{"k":216.2,"v":4964.9},{"k":217.3,"v":4965.0},{"k":219.6,"v":4964.8},{"k":221.2,"v":4964.0},{"k":222.1,"v":4963.6},{"k":223.2,"v":4964.0},{"k":225.1,"v":4964.0},{"k":226.8,"v":4963.2},{"k":228.2,"v":4964.0},{"k":230.1,"v":4965.5},{"k":232.9,"v":4967.1},{"k":235.1,"v":4969.1},{"k":236.8,"v":4970.4},{"k":239,"v":4971.1},{"k":241.2,"v":4971.6},{"k":242.9,"v":4972.0},{"k":244.3,"v":4972.2},{"k":245.7,"v":4974.2},{"k":247.4,"v":4978.0},{"k":249,"v":4983.6},{"k":250.7,"v":4988.8},{"k":252.4,"v":4993.5},{"k":254,"v":4996.1},{"k":256.2,"v":4999.4},{"k":258.5,"v":5001.9},{"k":260.7,"v":5004.1},{"k":263.4,"v":5006.4},{"k":265.1,"v":5007.5},{"k":266.8,"v":5007.6},{"k":267.9,"v":5007.4},{"k":269.6,"v":5008.0},{"k":271.5,"v":5009.0},{"k":273.1,"v":5009.2},{"k":274.8,"v":5010.1},{"k":277,"v":5011.3},{"k":279.2,"v":5011.7},{"k":281.2,"v":5012.0},{"k":282.6,"v":5012.4},{"k":285.3,"v":5013.0},{"k":287,"v":5014.1},{"k":288.7,"v":5015.2},{"k":290.9,"v":5017.1},{"k":292.6,"v":5018.9},{"k":294.8,"v":5021.0},{"k":297,"v":5024.4},{"k":299.2,"v":5028.3},{"k":301.5,"v":5030.9},{"k":304,"v":5033.9},{"k":307,"v":5036.0},{"k":310.4,"v":5037.8},{"k":313.7,"v":5039.5},{"k":315.9,"v":5040.2},{"k":317,"v":5041.4},{"k":318.1,"v":5044.2},{"k":318.9,"v":5045.7},{"k":319.8,"v":5046.1},{"k":320.9,"v":5045.3},{"k":322.6,"v":5044.2},{"k":324.2,"v":5042.9},{"k":325.3,"v":5041.9},{"k":327.6,"v":5040.5},{"k":330.1,"v":5039.0},{"k":332.3,"v":5038.6},{"k":333.7,"v":5037.1},{"k":335.4,"v":5034.8},{"k":337,"v":5032.6},{"k":338.2,"v":5027.4},{"k":339.5,"v":5019.3},{"k":340.6,"v":5014.9},{"k":341.9,"v":5009.6},{"k":343.6,"v":5000.2},{"k":345,"v":4996.6},{"k":346.7,"v":4993.1},{"k":348.9,"v":4988.9},{"k":351.7,"v":4984.5},{"k":353.9,"v":4982.3},{"k":355.6,"v":4982.1},{"k":356.7,"v":4983.0},{"k":358.3,"v":4984.2},{"k":361.1,"v":4986.6},{"k":362.2,"v":4987.8},{"k":363.3,"v":4987.5},{"k":364.4,"v":4987.8},{"k":366.7,"v":4989.5},{"k":368.4,"v":4994.2},{"k":370.6,"v":4998.4},{"k":373.3,"v":5002.2},{"k":375.6,"v":5005.2},{"k":378.4,"v":5010.2},{"k":380.6,"v":5013.1},{"k":382.8,"v":5015.5},{"k":385,"v":5016.7},{"k":387.8,"v":5018.9},{"k":389.4,"v":5023.2},{"k":391.7,"v":5028.5},{"k":393.3,"v":5030.3},{"k":396.1,"v":5033.8},{"k":399.4,"v":5037.1},{"k":401.1,"v":5038.2},{"k":403.3,"v":5041.5},{"k":404.7,"v":5043.4},{"k":406.1,"v":5044.4},{"k":407.2,"v":5044.0}
]
},
"layer":[
{"data":{"name":"c"},
 "mark":{"type":"rule","color":"#ffffff","strokeWidth":1},
 "encoding":{
  "x":{"field":"k","type":"quantitative","scale":{"domain":[-0.5833,407.25],"nice":false,"zero":false,"padding":0},
   "axis":{"orient":"bottom","title":null,"ticks":false,"domainColor":"#8a8a8a",
    "values":[1.5,8.5,16.5,24.5,31.5,39.5,47.5,54.5,62.5,70.5,77.5,85.5,93.5,100.5,108.5,116.5,123.5,131.5,139.5,146.5,154.5,162.5,169.5,177.5,185.5,192.5,200.5,208.5,215.5,223.5,231.5,238.5,246.5,254.5,261.5,269.5,277.5,284.5,292.5,300.5,307.5,315.5,323.5,330.5,338.5,346.5,353.5,361.5,369.5,376.5,384.5,392.5,399.5],
    "labelExpr":"(datum.value-1.5)%23==0 ? ['Jan 24','Jan 25','Jan 26','Jan 29','Jan 30','Jan 31','Feb 1','Feb 2','Feb 5','Feb 6','Feb 7','Feb 8','Feb 9','Feb 12','Feb 13','Feb 14','Feb 15','Feb 16'][round((datum.value-1.5)/23)] : ((datum.value-1.5)%23==7 ? (datum.value>395 ? '' : '8:00') : (datum.value>290 ? '' : '16:00'))",
    "labelAlign":"right","labelBaseline":"top","labelPadding":5,"labelColor":"#ffffff",
    "labelOffset":{"condition":{"test":"datum.value>275","value":58},"value":46},
    "labelFontWeight":{"condition":{"test":"(datum.value-1.5)%23==0","value":"bold"},"value":"normal"},
    "gridColor":{"condition":{"test":"(datum.value-1.5)%23==0","value":"#5e5e5e"},"value":"#383838"},
    "gridDash":{"condition":{"test":"(datum.value-1.5)%23==0","value":[8,4]},"value":[3,3]},
    "labelOverlap":false,"labelBound":false,"labelFlush":false}},
  "y":{"field":"l","type":"quantitative","scale":{"domain":[4852.44,5078.1],"nice":false,"zero":false,"padding":0},
   "axis":{"orient":"right","title":null,"values":[4856.25,4862.5,4868.75,4875,4881.25,4887.5,4893.75,4900,4906.25,4912.5,4918.75,4925,4931.25,4937.5,4943.75,4950,4956.25,4962.5,4968.75,4975,4981.25,4987.5,4993.75,5000,5006.25,5012.5,5018.75,5025,5031.25,5037.5,5043.75,5050,5056.25,5062.5,5068.75,5075],
   "format":".2f","labelColor":"#dcdcdc","labelPadding":3,"tickSize":4,"tickColor":"#8a8a8a","domainColor":"#8a8a8a","gridColor":"#3a3a3a","gridDash":[3,3],"labelOverlap":false,"labelBound":false,"labelFlush":false}},
  "y2":{"field":"h"}}},
{"data":{"values":[{"p":5046.6}]},
 "mark":{"type":"rule","color":"#7c7c7c","strokeWidth":1,"strokeDash":[8,4]},
 "encoding":{"y":{"field":"p","type":"quantitative","scale":{"domain":[4852.44,5078.1],"nice":false,"zero":false,"padding":0},
   "axis":{"orient":"right","title":null,"values":[4856.25,4862.5,4868.75,4875,4881.25,4887.5,4893.75,4900,4906.25,4912.5,4918.75,4925,4931.25,4937.5,4943.75,4950,4956.25,4962.5,4968.75,4975,4981.25,4987.5,4993.75,5000,5006.25,5012.5,5018.75,5025,5031.25,5037.5,5043.75,5050,5056.25,5062.5,5068.75,5075],
   "format":".2f","labelColor":"#dcdcdc","labelPadding":3,"tickSize":4,"tickColor":"#8a8a8a","domainColor":"#8a8a8a","gridColor":"#3a3a3a","gridDash":[3,3],"labelOverlap":false,"labelBound":false,"labelFlush":false}}}},
{"data":{"name":"c"},
 "mark":{"type":"bar","width":4,"strokeWidth":1},
 "encoding":{
  "x":{"field":"k","type":"quantitative","scale":{"domain":[-0.5833,407.25],"nice":false,"zero":false,"padding":0},
   "axis":{"orient":"bottom","title":null,"ticks":false,"domainColor":"#8a8a8a",
    "values":[1.5,8.5,16.5,24.5,31.5,39.5,47.5,54.5,62.5,70.5,77.5,85.5,93.5,100.5,108.5,116.5,123.5,131.5,139.5,146.5,154.5,162.5,169.5,177.5,185.5,192.5,200.5,208.5,215.5,223.5,231.5,238.5,246.5,254.5,261.5,269.5,277.5,284.5,292.5,300.5,307.5,315.5,323.5,330.5,338.5,346.5,353.5,361.5,369.5,376.5,384.5,392.5,399.5],
    "labelExpr":"(datum.value-1.5)%23==0 ? ['Jan 24','Jan 25','Jan 26','Jan 29','Jan 30','Jan 31','Feb 1','Feb 2','Feb 5','Feb 6','Feb 7','Feb 8','Feb 9','Feb 12','Feb 13','Feb 14','Feb 15','Feb 16'][round((datum.value-1.5)/23)] : ((datum.value-1.5)%23==7 ? (datum.value>395 ? '' : '8:00') : (datum.value>290 ? '' : '16:00'))",
    "labelAlign":"right","labelBaseline":"top","labelPadding":5,"labelColor":"#ffffff",
    "labelOffset":{"condition":{"test":"datum.value>275","value":58},"value":46},
    "labelFontWeight":{"condition":{"test":"(datum.value-1.5)%23==0","value":"bold"},"value":"normal"},
    "gridColor":{"condition":{"test":"(datum.value-1.5)%23==0","value":"#5e5e5e"},"value":"#383838"},
    "gridDash":{"condition":{"test":"(datum.value-1.5)%23==0","value":[8,4]},"value":[3,3]},
    "labelOverlap":false,"labelBound":false,"labelFlush":false}},
  "y":{"field":"o","type":"quantitative","scale":{"domain":[4852.44,5078.1],"nice":false,"zero":false,"padding":0},
   "axis":{"orient":"right","title":null,"values":[4856.25,4862.5,4868.75,4875,4881.25,4887.5,4893.75,4900,4906.25,4912.5,4918.75,4925,4931.25,4937.5,4943.75,4950,4956.25,4962.5,4968.75,4975,4981.25,4987.5,4993.75,5000,5006.25,5012.5,5018.75,5025,5031.25,5037.5,5043.75,5050,5056.25,5062.5,5068.75,5075],
   "format":".2f","labelColor":"#dcdcdc","labelPadding":3,"tickSize":4,"tickColor":"#8a8a8a","domainColor":"#8a8a8a","gridColor":"#3a3a3a","gridDash":[3,3],"labelOverlap":false,"labelBound":false,"labelFlush":false}},
  "y2":{"field":"c"},
  "color":{"condition":[{"test":"datum.c > datum.o","value":"#00a800"},{"test":"datum.c < datum.o","value":"#dc0000"}],"value":"#ffff00"},
  "stroke":{"condition":[{"test":"datum.c > datum.o","value":"#00a800"},{"test":"datum.c < datum.o","value":"#dc0000"}],"value":"#ffff00"}}},
{"data":{"name":"ma"},
 "mark":{"type":"line","color":"#e0e000","strokeWidth":1.2,"interpolate":"linear"},
 "encoding":{
  "x":{"field":"k","type":"quantitative","scale":{"domain":[-0.5833,407.25],"nice":false,"zero":false,"padding":0},
   "axis":{"orient":"bottom","title":null,"ticks":false,"domainColor":"#8a8a8a",
    "values":[1.5,8.5,16.5,24.5,31.5,39.5,47.5,54.5,62.5,70.5,77.5,85.5,93.5,100.5,108.5,116.5,123.5,131.5,139.5,146.5,154.5,162.5,169.5,177.5,185.5,192.5,200.5,208.5,215.5,223.5,231.5,238.5,246.5,254.5,261.5,269.5,277.5,284.5,292.5,300.5,307.5,315.5,323.5,330.5,338.5,346.5,353.5,361.5,369.5,376.5,384.5,392.5,399.5],
    "labelExpr":"(datum.value-1.5)%23==0 ? ['Jan 24','Jan 25','Jan 26','Jan 29','Jan 30','Jan 31','Feb 1','Feb 2','Feb 5','Feb 6','Feb 7','Feb 8','Feb 9','Feb 12','Feb 13','Feb 14','Feb 15','Feb 16'][round((datum.value-1.5)/23)] : ((datum.value-1.5)%23==7 ? (datum.value>395 ? '' : '8:00') : (datum.value>290 ? '' : '16:00'))",
    "labelAlign":"right","labelBaseline":"top","labelPadding":5,"labelColor":"#ffffff",
    "labelOffset":{"condition":{"test":"datum.value>275","value":58},"value":46},
    "labelFontWeight":{"condition":{"test":"(datum.value-1.5)%23==0","value":"bold"},"value":"normal"},
    "gridColor":{"condition":{"test":"(datum.value-1.5)%23==0","value":"#5e5e5e"},"value":"#383838"},
    "gridDash":{"condition":{"test":"(datum.value-1.5)%23==0","value":[8,4]},"value":[3,3]},
    "labelOverlap":false,"labelBound":false,"labelFlush":false}},
  "y":{"field":"v","type":"quantitative","scale":{"domain":[4852.44,5078.1],"nice":false,"zero":false,"padding":0},
   "axis":{"orient":"right","title":null,"values":[4856.25,4862.5,4868.75,4875,4881.25,4887.5,4893.75,4900,4906.25,4912.5,4918.75,4925,4931.25,4937.5,4943.75,4950,4956.25,4962.5,4968.75,4975,4981.25,4987.5,4993.75,5000,5006.25,5012.5,5018.75,5025,5031.25,5037.5,5043.75,5050,5056.25,5062.5,5068.75,5075],
   "format":".2f","labelColor":"#dcdcdc","labelPadding":3,"tickSize":4,"tickColor":"#8a8a8a","domainColor":"#8a8a8a","gridColor":"#3a3a3a","gridDash":[3,3],"labelOverlap":false,"labelBound":false,"labelFlush":false}}}}
]
}
